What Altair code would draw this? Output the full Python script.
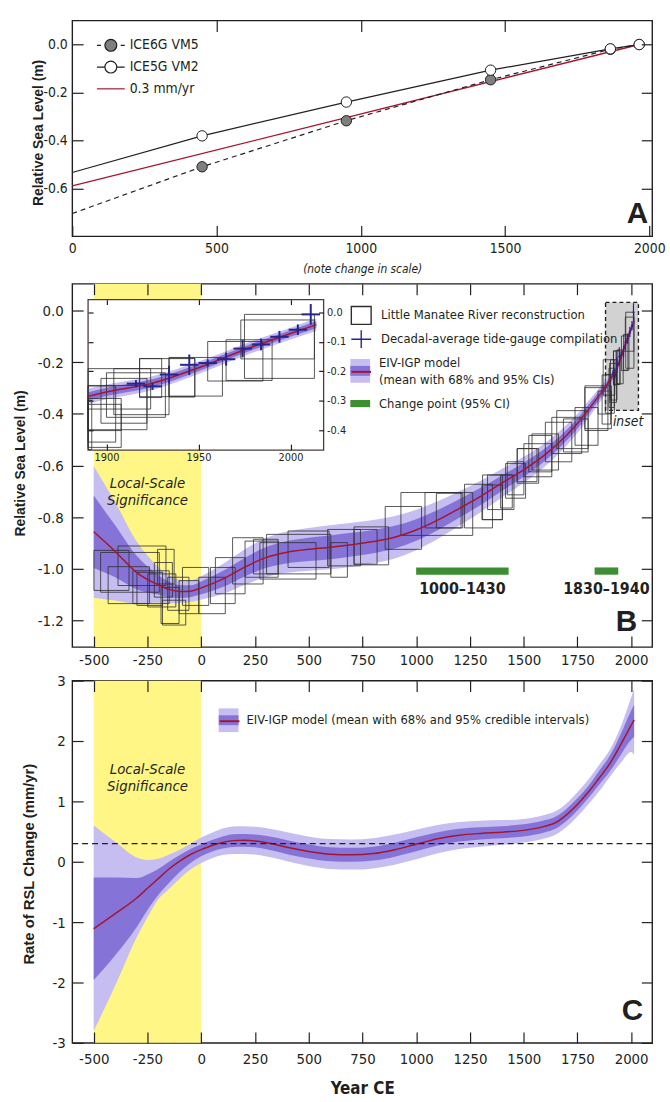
import altair as alt
import pandas as pd

# ================= styles =================
FONT = "Liberation Sans Narrow, DejaVu Sans Condensed, sans-serif"
FONT_B = "Liberation Sans, DejaVu Sans, sans-serif"
INK = "#231f20"
YELLOW = "#fff685"
LIGHT = "#c6bdf0"
DARK = "#8673d8"
RED = "#a3172d"
NAVY = "#25258c"
GREEN = "#3d8d33"
BOXC = "#2e2e2e"
GRAYC = "#7f7f7f"
INSETC = "#4b3d3d"
TR = "transparent"

W = 586
HA, HB, HC = 218, 367, 366
TICK = 11
MINUS = "replace(datum.label, '\u2212', '-')"

# ================= Panel A data =================
A_XDOM = [0, 2010]
A_YDOM = [-0.8, 0.1]
ice6_year = [0, 450, 950, 1450, 1865, 1965]
ice6_rsl = [-0.705, -0.510, -0.318, -0.147, -0.020, 0.000]
ice5_year = [0, 450, 950, 1450, 1865, 1965]
ice5_rsl = [-0.534, -0.381, -0.240, -0.107, -0.018, 0.000]
rate_year = [0, 1965]
rate_rsl = [-0.59, 0.000]
A_items = ["ICE6G VM5", "ICE5G VM2", "0.3 mm/yr"]
A_ticks_x = [0, 500, 1000, 1500, 2000]
A_ticks_y = [0.0, -0.2, -0.4, -0.6]

# ================= Panel B data =================
B_XDOM = [-600, 2098]
B_YDOM = [-1.303, 0.103]
LOCAL = [-500, 0]
B_ticks_x = [-500, -250, 0, 250, 500, 750, 1000, 1250, 1500, 1750, 2000]
B_ticks_y = [0.0, -0.2, -0.4, -0.6, -0.8, -1.0, -1.2]

B_year = [-500, -400, -300, -200, -150, -100, -50, 0, 100, 200, 300, 400, 500, 600, 700, 800,
          900, 1000, 1100, 1200, 1300, 1400, 1500, 1600, 1700, 1750, 1800, 1850, 1890, 1900,
          1925, 1950, 1975, 2000, 2014]
B_mean = [-0.857, -0.933, -1.015, -1.062, -1.080, -1.088, -1.087, -1.074, -1.040, -0.995,
          -0.957, -0.936, -0.925, -0.917, -0.907, -0.895, -0.878, -0.850, -0.812, -0.767,
          -0.720, -0.668, -0.617, -0.558, -0.483, -0.438, -0.385, -0.331, -0.285, -0.270,
          -0.240, -0.188, -0.127, -0.072, -0.042]
B_h95 = [0.255, 0.19, 0.12, 0.07, 0.055, 0.045, 0.042, 0.045, 0.058, 0.068, 0.076, 0.08,
         0.083, 0.085, 0.085, 0.084, 0.082, 0.078, 0.073, 0.067, 0.061, 0.055, 0.05, 0.045,
         0.04, 0.037, 0.033, 0.029, 0.026, 0.025, 0.023, 0.021, 0.02, 0.02, 0.021]
B_h68 = [0.14, 0.10, 0.065, 0.038, 0.03, 0.025, 0.023, 0.025, 0.031, 0.036, 0.04, 0.043,
         0.045, 0.046, 0.046, 0.045, 0.044, 0.042, 0.039, 0.036, 0.033, 0.03, 0.027, 0.024,
         0.021, 0.02, 0.018, 0.016, 0.014, 0.014, 0.013, 0.012, 0.011, 0.011, 0.012]

box_x1 = [-499, -468, -387, -433, -318, -299, -249, -203, -187, -180, -218, -156, -103, -87,
          -11, 43, 66, 146, 204, 243, 273, 304, 404, 588, 603, 711, 711, 856, 929, 1041, 1094,
          1225, 1306, 1309, 1332, 1393, 1416, 1424, 1470, 1470, 1501, 1524, 1539, 1601, 1631,
          1654, 1685, 1739, 1785, 1785, 1846, 1865, 1870, 1880, 1897, 1900, 1904, 1918, 1918,
          1934, 1934, 1955, 1965, 1973, 1975]
box_x2 = [-336, -195, -164, -241, -149, -180, -118, -126, -103, -72, -134, -57, -11, 35,
          112, 158, 204, 288, 358, 358, 534, 603, 595, 741, 680, 818, 872, 1025, 1263, 1209,
          1217, 1355, 1401, 1401, 1455, 1447, 1509, 1501, 1570, 1562, 1631, 1631, 1662, 1724,
          1770, 1800, 1800, 1846, 1892, 1908, 1908, 1905, 1924, 1922, 1922, 1932, 1934, 1930,
          1948, 1963, 1948, 1985, 1990, 2013, 2013]
box_lo = [-1.084, -1.091, -1.065, -1.135, -1.135, -1.142, -1.148, -1.059, -1.212, -1.218,
          -1.110, -1.161, -1.174, -1.142, -1.174, -1.135, -1.097, -1.059, -1.033, -1.020,
          -1.040, -1.020, -0.995, -0.989, -1.033, -0.982, -0.985, -0.925, -0.871, -0.842,
          -0.842, -0.842, -0.810, -0.810, -0.771, -0.765, -0.727, -0.714, -0.669, -0.663,
          -0.644, -0.625, -0.618, -0.586, -0.554, -0.535, -0.548, -0.522, -0.465, -0.458,
          -0.401, -0.440, -0.328, -0.398, -0.376, -0.356, -0.347, -0.289, -0.286, -0.284,
          -0.287, -0.233, -0.231, -0.158, -0.224]
box_hi = [-0.929, -0.937, -0.912, -0.992, -1.008, -1.014, -1.020, -0.925, -1.072, -1.122,
          -0.976, -1.033, -1.046, -0.995, -1.033, -0.995, -0.957, -0.880, -0.893, -0.886,
          -0.899, -0.867, -0.854, -0.848, -0.899, -0.848, -0.838, -0.759, -0.705, -0.705,
          -0.708, -0.673, -0.676, -0.637, -0.637, -0.637, -0.593, -0.586, -0.535, -0.535,
          -0.516, -0.484, -0.478, -0.433, -0.414, -0.388, -0.420, -0.376, -0.299, -0.292,
          -0.312, -0.250, -0.191, -0.248, -0.224, -0.205, -0.191, -0.157, -0.157, -0.153,
          -0.155, -0.099, -0.093, -0.026, -0.007]

tg_year = [1916, 1925, 1934, 1945, 1955, 1965, 1974, 1984, 1994, 2004, 2011]
tg_rsl = [-0.242, -0.251, -0.211, -0.178, -0.172, -0.159, -0.123, -0.109, -0.083, -0.059, -0.007]
tg_err = [0.012, 0.012, 0.030, 0.035, 0.012, 0.022, 0.030, 0.020, 0.020, 0.018, 0.035]
TG_HALF = 5

cp_start = [1000, 1830]
cp_end = [1430, 1940]
CP_TOP, CP_BOT, CP_LABEL_Y = -0.995, -1.023, -1.08

INSET_MARK = {"x1": [1881], "x2": [2034], "y1": [-0.387], "y2": [0.031]}
INSET_X = [1890, 2018]
INSET_Y = [-0.467, 0.043]
INSET_XR = [16, 254]
INSET_YR = [168, 16]
INSET_TX = [1900, 1950, 2000]
INSET_TY = [0.0, -0.1, -0.2, -0.3, -0.4]

B_items = ["Little Manatee River reconstruction", "Decadal-average tide-gauge compilation",
           "EIV-IGP model", "(mean with 68% and 95% CIs)", "Change point (95% CI)"]

# ================= Panel C data =================
C_YDOM = [-3, 3]
C_ticks_y = [-3, -2, -1, 0, 1, 2, 3]
REF_RATE = 0.3
C_year = [-500, -400, -300, -250, -200, -150, -100, -50, 0, 50, 100, 150, 200, 250, 300, 400,
          500, 600, 700, 800, 900, 1000, 1100, 1200, 1300, 1400, 1500, 1600, 1650, 1700, 1750,
          1800, 1850, 1900, 1950, 2000, 2014]
C_mean = [-1.11, -0.86, -0.60, -0.44, -0.28, -0.12, 0.01, 0.12, 0.20, 0.27, 0.32, 0.35, 0.355,
          0.345, 0.32, 0.24, 0.17, 0.125, 0.115, 0.135, 0.20, 0.29, 0.38, 0.44, 0.47, 0.49,
          0.52, 0.59, 0.65, 0.78, 0.95, 1.15, 1.38, 1.62, 1.93, 2.26, 2.35]
C_hi95 = [0.60, 0.33, 0.07, 0.03, 0.05, 0.12, 0.20, 0.30, 0.40, 0.48, 0.55, 0.585, 0.59, 0.58,
          0.56, 0.49, 0.42, 0.375, 0.37, 0.39, 0.45, 0.53, 0.61, 0.66, 0.68, 0.69, 0.71, 0.78,
          0.84, 0.97, 1.15, 1.36, 1.60, 1.85, 2.22, 2.72, 2.87]
C_hi68 = [-0.26, -0.26, -0.27, -0.21, -0.12, 0.0, 0.11, 0.21, 0.29, 0.36, 0.42, 0.455, 0.46,
          0.45, 0.43, 0.355, 0.285, 0.24, 0.23, 0.25, 0.315, 0.405, 0.49, 0.545, 0.57, 0.59,
          0.62, 0.69, 0.75, 0.88, 1.05, 1.25, 1.50, 1.75, 2.10, 2.50, 2.60]
C_lo68 = [-1.96, -1.55, -1.08, -0.80, -0.55, -0.35, -0.17, -0.02, 0.09, 0.17, 0.22, 0.245,
          0.25, 0.24, 0.21, 0.125, 0.055, 0.01, 0.0, 0.02, 0.085, 0.175, 0.27, 0.335, 0.37,
          0.39, 0.42, 0.49, 0.55, 0.68, 0.85, 1.05, 1.27, 1.49, 1.76, 2.02, 2.07]
C_lo95 = [-2.80, -2.05, -1.25, -0.92, -0.62, -0.45, -0.28, -0.13, -0.02, 0.06, 0.11, 0.13,
          0.13, 0.12, 0.09, 0.01, -0.07, -0.12, -0.13, -0.11, -0.05, 0.04, 0.14, 0.21, 0.25,
          0.28, 0.32, 0.39, 0.45, 0.58, 0.75, 0.95, 1.16, 1.40, 1.63, 1.82, 1.77]
C_items = ["EIV-IGP model (mean with 68% and 95% credible intervals)"]


# ================= helpers =================
def sc(dom, rng=None):
    if rng is None:
        return alt.Scale(domain=dom, nice=False, zero=False)
    return alt.Scale(domain=dom, range=rng, nice=False, zero=False)


def ax(orient, values, size=15, pad=6, fmt=None, labels=True, tick=TICK, offset=None, **extra):
    kw = dict(orient=orient, values=values, domain=False, grid=False, ticks=True,
              tickSize=tick, offset=(-tick if offset is None else offset),
              tickColor=INK, tickWidth=1.2, labels=labels, zindex=1)
    if labels:
        kw.update(labelFont=FONT, labelFontSize=size, labelColor=INK, labelPadding=pad,
                  labelExpr=MINUS, labelFlush=False, labelOverlap=False)
        if fmt:
            kw["format"] = fmt
    if "title" not in extra:
        kw["title"] = None
    kw.update(extra)
    return alt.Axis(**kw)


def legend_layer(items, paths, fills, strokes, sw, lx, ly, size, label_offset, fsize,
                 row_pad=0, show_label=True):
    lkw = dict(orient="none", legendX=lx, legendY=ly, title=None, symbolSize=size,
               symbolStrokeWidth=sw, symbolOpacity=1, labelFont=FONT, labelFontSize=fsize,
               labelColor=INK, labelOffset=label_offset, rowPadding=row_pad, padding=0,
               labelLimit=0)
    if not show_label:
        lkw["labelExpr"] = "' '"
        lkw["labelOpacity"] = 0
    leg = alt.Legend(**lkw)
    return alt.Chart(pd.DataFrame({"item": items})).mark_point(
        filled=True, clip=True, size=size
    ).encode(
        x=alt.value(-200), y=alt.value(-200),
        shape=alt.Shape("item:N", scale=alt.Scale(domain=items, range=paths), legend=leg),
        fill=alt.Fill("item:N", scale=alt.Scale(domain=items, range=fills), legend=leg),
        stroke=alt.Stroke("item:N", scale=alt.Scale(domain=items, range=strokes), legend=leg),
    )


def txt(df, xf, yf, **mk):
    return alt.Chart(df).mark_text(**mk).encode(x=xf, y=yf, text="t:N")


# ================= Panel A =================
dfA6 = pd.DataFrame({"year": ice6_year, "rsl": ice6_rsl})
dfA5 = pd.DataFrame({"year": ice5_year, "rsl": ice5_rsl})
dfAr = pd.DataFrame({"year": rate_year, "rsl": rate_rsl})


def xA(field="year", axis=None):
    return alt.X(f"{field}:Q", scale=sc(A_XDOM), axis=axis)


def yA(field="rsl", axis=None):
    return alt.Y(f"{field}:Q", scale=sc(A_YDOM), axis=axis)


a_rate = alt.Chart(dfAr).mark_line(color=RED, strokeWidth=1.4).encode(
    x=xA(axis=ax("bottom", A_ticks_x, size=14, pad=5, fmt="d", title="(note change in scale)",
                 titleFont=FONT, titleFontSize=12, titleFontStyle="italic",
                 titleFontWeight="normal", titleColor=INK, titleY=44, titleBaseline="middle")),
    y=yA(axis=ax("left", A_ticks_y, size=14, pad=5, fmt=".1f", title="Relative Sea Level (m)",
                 titleFont=FONT_B, titleFontSize=14, titleFontWeight="bold", titleColor=INK,
                 titleX=-45, titleY=113, titleBaseline="middle")),
)
a6_line = alt.Chart(dfA6).mark_line(color=INK, strokeWidth=1.2, strokeDash=[5, 4]).encode(
    x=xA(axis=ax("top", [500, 1000, 1500], labels=False)),
    y=yA(axis=ax("right", A_ticks_y, labels=False)),
)
a5_line = alt.Chart(dfA5).mark_line(color=INK, strokeWidth=1.2).encode(x=xA(), y=yA())
a6_pts = alt.Chart(dfA6[dfA6.year > 0]).mark_circle(
    size=110, fill=GRAYC, stroke=INK, strokeWidth=1, opacity=1).encode(x=xA(), y=yA())
a5_pts = alt.Chart(dfA5[dfA5.year > 0]).mark_circle(
    size=110, fill="white", stroke=INK, strokeWidth=1, opacity=1).encode(x=xA(), y=yA())
a_lab = txt(pd.DataFrame({"year": [1959], "rsl": [-0.709], "t": ["A"]}), xA(), yA(),
            font=FONT_B, fontSize=30, fontWeight="bold", color=INK)

A_paths = [
    "M-1.17,0H-0.83M0.83,0H1.17M-0.5,0A0.5,0.5,0,1,1,0.5,0A0.5,0.5,0,1,1,-0.5,0Z",
    "M-1.17,0H-0.5M0.5,0H1.17M-0.5,0A0.5,0.5,0,1,1,0.5,0A0.5,0.5,0,1,1,-0.5,0Z",
    "M-1.17,0H1.17",
]
legA = legend_layer(A_items, A_paths, [GRAYC, "white", TR], [INK, INK, RED], 1.2,
                    26, 12, 576, 6, 14)

A = alt.layer(a_rate, a6_line, a5_line, a6_pts, a5_pts, a_lab, legA).properties(
    width=W, height=HA)

# ================= Panel B =================
dfB = pd.DataFrame({"year": B_year, "mean": B_mean, "h95": B_h95, "h68": B_h68})
dfB["lo95"] = dfB["mean"] - dfB["h95"]
dfB["hi95"] = dfB["mean"] + dfB["h95"]
dfB["lo68"] = dfB["mean"] - dfB["h68"]
dfB["hi68"] = dfB["mean"] + dfB["h68"]
dfBi = dfB[dfB.year >= INSET_X[0]]

dfBox = pd.DataFrame({"x1": box_x1, "x2": box_x2, "lo": box_lo, "hi": box_hi})
dfBoxI = dfBox[(dfBox.x2 > INSET_X[0]) & (dfBox.x1 < INSET_X[1])].copy()
dfBoxI["x1"] = dfBoxI["x1"].clip(lower=INSET_X[0])
dfBoxI["x2"] = dfBoxI["x2"].clip(upper=INSET_X[1])
dfBoxI["lo"] = dfBoxI["lo"].clip(lower=INSET_Y[0])
dfBoxI["hi"] = dfBoxI["hi"].clip(upper=INSET_Y[1])

dfTG = pd.DataFrame({"year": tg_year, "rsl": tg_rsl, "err": tg_err})
dfTG["xl"] = dfTG["year"] - TG_HALF
dfTG["xr"] = dfTG["year"] + TG_HALF
dfTG["lo"] = dfTG["rsl"] - dfTG["err"]
dfTG["hi"] = dfTG["rsl"] + dfTG["err"]

dfCP = pd.DataFrame({"s": cp_start, "e": cp_end})
dfCP["top"] = CP_TOP
dfCP["bot"] = CP_BOT
dfCP["mid"] = (dfCP["s"] + dfCP["e"]) / 2
dfCP["ly"] = CP_LABEL_Y
dfCP["t"] = [f"{s}\u2013{e}" for s, e in zip(cp_start, cp_end)]


def xB(field, axis=None):
    return alt.X(f"{field}:Q", scale=sc(B_XDOM), axis=axis)


def yB(field, axis=None):
    return alt.Y(f"{field}:Q", scale=sc(B_YDOM), axis=axis)


def xI(field, axis=None):
    return alt.X(f"{field}:Q", scale=sc(INSET_X, INSET_XR), axis=axis)


def yI(field, axis=None):
    return alt.Y(f"{field}:Q", scale=sc(INSET_Y, INSET_YR), axis=axis)


dfYB = pd.DataFrame({"x1": [LOCAL[0]], "x2": [LOCAL[1]], "y1": [B_YDOM[0]], "y2": [B_YDOM[1]]})
b_yellow = alt.Chart(dfYB).mark_rect(color=YELLOW).encode(
    x=xB("x1", ax("bottom", B_ticks_x, size=15, pad=6, fmt="d")), x2="x2:Q",
    y=yB("y1", ax("left", B_ticks_y, size=15, pad=9, fmt=".1f", title="Relative Sea Level (m)",
                  titleFont=FONT_B, titleFontSize=14, titleFontWeight="bold", titleColor=INK,
                  titleX=-63, titleY=181, titleBaseline="middle")),
    y2="y2:Q")
b_gray = alt.Chart(pd.DataFrame(INSET_MARK)).mark_rect(
    fill="#d2d2d2", stroke=INK, strokeDash=[4, 3], strokeWidth=1.4).encode(
    x=xB("x1", ax("top", B_ticks_x, labels=False)), x2="x2:Q",
    y=yB("y1", ax("right", B_ticks_y, labels=False)), y2="y2:Q")
b_l95 = alt.Chart(dfB).mark_area(color=LIGHT, interpolate="monotone").encode(
    x=xB("year"), y=yB("lo95"), y2="hi95:Q")
b_l68 = alt.Chart(dfB).mark_area(color=DARK, interpolate="monotone").encode(
    x=xB("year"), y=yB("lo68"), y2="hi68:Q")
b_box = alt.Chart(dfBox).mark_rect(fillOpacity=0, stroke=BOXC, strokeWidth=1,
                                   strokeOpacity=0.8).encode(
    x=xB("x1"), x2="x2:Q", y=yB("lo"), y2="hi:Q")
b_mean = alt.Chart(dfB).mark_line(color=RED, strokeWidth=1.5, interpolate="monotone").encode(
    x=xB("year"), y=yB("mean"))
b_tgh = alt.Chart(dfTG).mark_rule(color=NAVY, strokeWidth=1.2).encode(
    x=xB("xl"), x2="xr:Q", y=yB("rsl"))
b_tgv = alt.Chart(dfTG).mark_rule(color=NAVY, strokeWidth=1.2).encode(
    x=xB("year"), y=yB("lo"), y2="hi:Q")
b_cp = alt.Chart(dfCP).mark_rect(color=GREEN).encode(
    x=xB("s"), x2="e:Q", y=yB("bot"), y2="top:Q")
b_cpt = alt.Chart(dfCP).mark_text(font=FONT, fontSize=16, fontWeight="bold", color=INK).encode(
    x=xB("mid"), y=yB("ly"), text="t:N")
b_letter = txt(pd.DataFrame({"x": [1978], "y": [-1.207], "t": ["B"]}), xB("x"), yB("y"),
               font=FONT_B, fontSize=30, fontWeight="bold", color=INK)
b_inset = txt(pd.DataFrame({"x": [1986], "y": [-0.433], "t": ["inset"]}), xB("x"), yB("y"),
              font=FONT, fontSize=14, fontStyle="italic", color=INK)
b_local = txt(pd.DataFrame({"x": [-250, -250], "y": [-0.670, -0.736],
                            "t": ["Local-Scale", "Significance"]}), xB("x"), yB("y"),
              font=FONT, fontSize=15, fontStyle="italic", color=INK)

main_B = alt.layer(b_yellow, b_gray, b_l95, b_l68, b_box, b_mean, b_tgh, b_tgv, b_cp, b_cpt,
                   b_letter, b_inset, b_local)

dfFrame = pd.DataFrame({"x1": [INSET_X[0]], "x2": [INSET_X[1]],
                        "y1": [INSET_Y[0]], "y2": [INSET_Y[1]]})
i_frame = alt.Chart(dfFrame).mark_rect(fill="white", stroke=INSETC, strokeWidth=1.3).encode(
    x=xI("x1", ax("bottom", INSET_TX, size=11, pad=2, fmt="d", tick=6,
                  offset=(INSET_YR[0] - 6) - HB)),
    x2="x2:Q",
    y=yI("y1", ax("left", INSET_TY, labels=False, tick=5, offset=-(INSET_XR[0] + 5))),
    y2="y2:Q")
i_l95 = alt.Chart(dfBi).mark_area(color=LIGHT, interpolate="monotone").encode(
    x=xI("year", ax("top", INSET_TX, labels=False, tick=5, offset=-(INSET_YR[1] + 5))),
    y=yI("lo95", ax("right", INSET_TY, size=11, pad=3, fmt=".1f", tick=5,
                    offset=(INSET_XR[1] - 5) - W)),
    y2="hi95:Q")
i_l68 = alt.Chart(dfBi).mark_area(color=DARK, interpolate="monotone").encode(
    x=xI("year"), y=yI("lo68"), y2="hi68:Q")
i_box = alt.Chart(dfBoxI).mark_rect(fillOpacity=0, stroke=BOXC, strokeWidth=1,
                                    strokeOpacity=0.8).encode(
    x=xI("x1"), x2="x2:Q", y=yI("lo"), y2="hi:Q")
i_mean = alt.Chart(dfBi).mark_line(color=RED, strokeWidth=1.5, interpolate="monotone").encode(
    x=xI("year"), y=yI("mean"))
i_tgh = alt.Chart(dfTG).mark_rule(color=NAVY, strokeWidth=2).encode(
    x=xI("xl"), x2="xr:Q", y=yI("rsl"))
i_tgv = alt.Chart(dfTG).mark_rule(color=NAVY, strokeWidth=2).encode(
    x=xI("year"), y=yI("lo"), y2="hi:Q")
inset_B = alt.layer(i_frame, i_l95, i_l68, i_box, i_mean, i_tgh, i_tgv)

# legend of panel B: one single-entry legend per row (row centres follow the reference)
LBX = 281
legB = [
    legend_layer([B_items[0]], ["M-1,-0.9H1V0.9H-1Z"], [TR], [BOXC], 1.4, LBX, 21, 400, 9, 13),
    legend_layer([B_items[1]], ["M-1,0H1M0,-0.9V0.9"], [TR], [NAVY], 1.4, LBX, 45, 400, 9, 13),
    legend_layer([B_items[2]], ["M-1,-0.4H1V2.0H-1Z"], [LIGHT], [TR], 0, LBX, 70, 400, 9, 13),
    legend_layer([B_items[2]], ["M-1,0.3H1V1.3H-1Z"], [DARK], [TR], 0, LBX, 70, 400, 9, 13,
                 show_label=False),
    legend_layer([B_items[2]], ["M-1,0.8H1"], [TR], [RED], 2, LBX, 70, 400, 9, 13,
                 show_label=False),
    legend_layer([B_items[3]], ["M-1,0H1"], [TR], [TR], 0, LBX, 87, 400, 9, 13),
    legend_layer([B_items[4]], ["M-1,-0.36H1V0.36H-1Z"], [GREEN], [TR], 0, LBX, 111, 400, 9, 13),
]

B = alt.layer(main_B, inset_B, *legB).resolve_scale(
    x="independent", y="independent", shape="independent", fill="independent",
    stroke="independent").properties(width=W, height=HB)

# ================= Panel C =================
dfC = pd.DataFrame({"year": C_year, "mean": C_mean, "lo95": C_lo95, "hi95": C_hi95,
                    "lo68": C_lo68, "hi68": C_hi68})


def yC(field, axis=None):
    return alt.Y(f"{field}:Q", scale=sc(C_YDOM), axis=axis)


dfYC = pd.DataFrame({"x1": [LOCAL[0]], "x2": [LOCAL[1]], "y1": [C_YDOM[0]], "y2": [C_YDOM[1]]})
c_yellow = alt.Chart(dfYC).mark_rect(color=YELLOW).encode(
    x=xB("x1", ax("bottom", B_ticks_x, size=15, pad=9, fmt="d", title="Year CE",
                  titleFont=FONT, titleFontSize=17, titleFontWeight="bold", titleColor=INK,
                  titleY=57, titleBaseline="middle")),
    x2="x2:Q",
    y=yC("y1", ax("left", C_ticks_y, size=15, pad=7, fmt="d",
                  title="Rate of RSL Change (mm/yr)", titleFont=FONT_B, titleFontSize=15,
                  titleFontWeight="bold", titleColor=INK, titleX=-55, titleY=185,
                  titleBaseline="middle")),
    y2="y2:Q")
c_l95 = alt.Chart(dfC).mark_area(color=LIGHT, interpolate="monotone").encode(
    x=xB("year", ax("top", B_ticks_x, labels=False)),
    y=yC("lo95", ax("right", C_ticks_y, labels=False)), y2="hi95:Q")
c_l68 = alt.Chart(dfC).mark_area(color=DARK, interpolate="monotone").encode(
    x=xB("year"), y=yC("lo68"), y2="hi68:Q")
c_mean = alt.Chart(dfC).mark_line(color=RED, strokeWidth=1.5, interpolate="monotone").encode(
    x=xB("year"), y=yC("mean"))
c_ref = alt.Chart(pd.DataFrame({"r": [REF_RATE]})).mark_rule(
    color=INK, strokeWidth=1.2, strokeDash=[6, 4]).encode(y=yC("r"))
c_local = txt(pd.DataFrame({"x": [-250, -250], "y": [1.54, 1.25],
                            "t": ["Local-Scale", "Significance"]}), xB("x"), yC("y"),
              font=FONT, fontSize=15, fontStyle="italic", color=INK)
c_letter = txt(pd.DataFrame({"x": [2006], "y": [-2.48], "t": ["C"]}), xB("x"), yC("y"),
               font=FONT_B, fontSize=30, fontWeight="bold", color=INK)

legC = [
    legend_layer(C_items, ["M-1,-1.2H1V1.2H-1Z"], [LIGHT], [TR], 0, 148, 30, 400, 8, 13),
    legend_layer(C_items, ["M-1,-0.5H1V0.5H-1Z"], [DARK], [TR], 0, 148, 30, 400, 8, 13,
                 show_label=False),
    legend_layer(C_items, ["M-1,0H1"], [TR], [RED], 2, 148, 30, 400, 8, 13, show_label=False),
]

C = alt.layer(c_yellow, c_l95, c_l68, c_mean, c_ref, c_local, c_letter, *legC).resolve_scale(
    shape="independent", fill="independent", stroke="independent").properties(width=W, height=HC)

chart = alt.vconcat(
    A, alt.vconcat(B, C, spacing=34, bounds="flush"), spacing=48, bounds="flush"
).properties(
    padding={"left": 13, "top": 13, "right": 4, "bottom": 0}
).configure(font=FONT, view={"stroke": INK, "strokeWidth": 1.4})

chart.save("out.html", embed_options={"renderer": "svg", "actions": False})
